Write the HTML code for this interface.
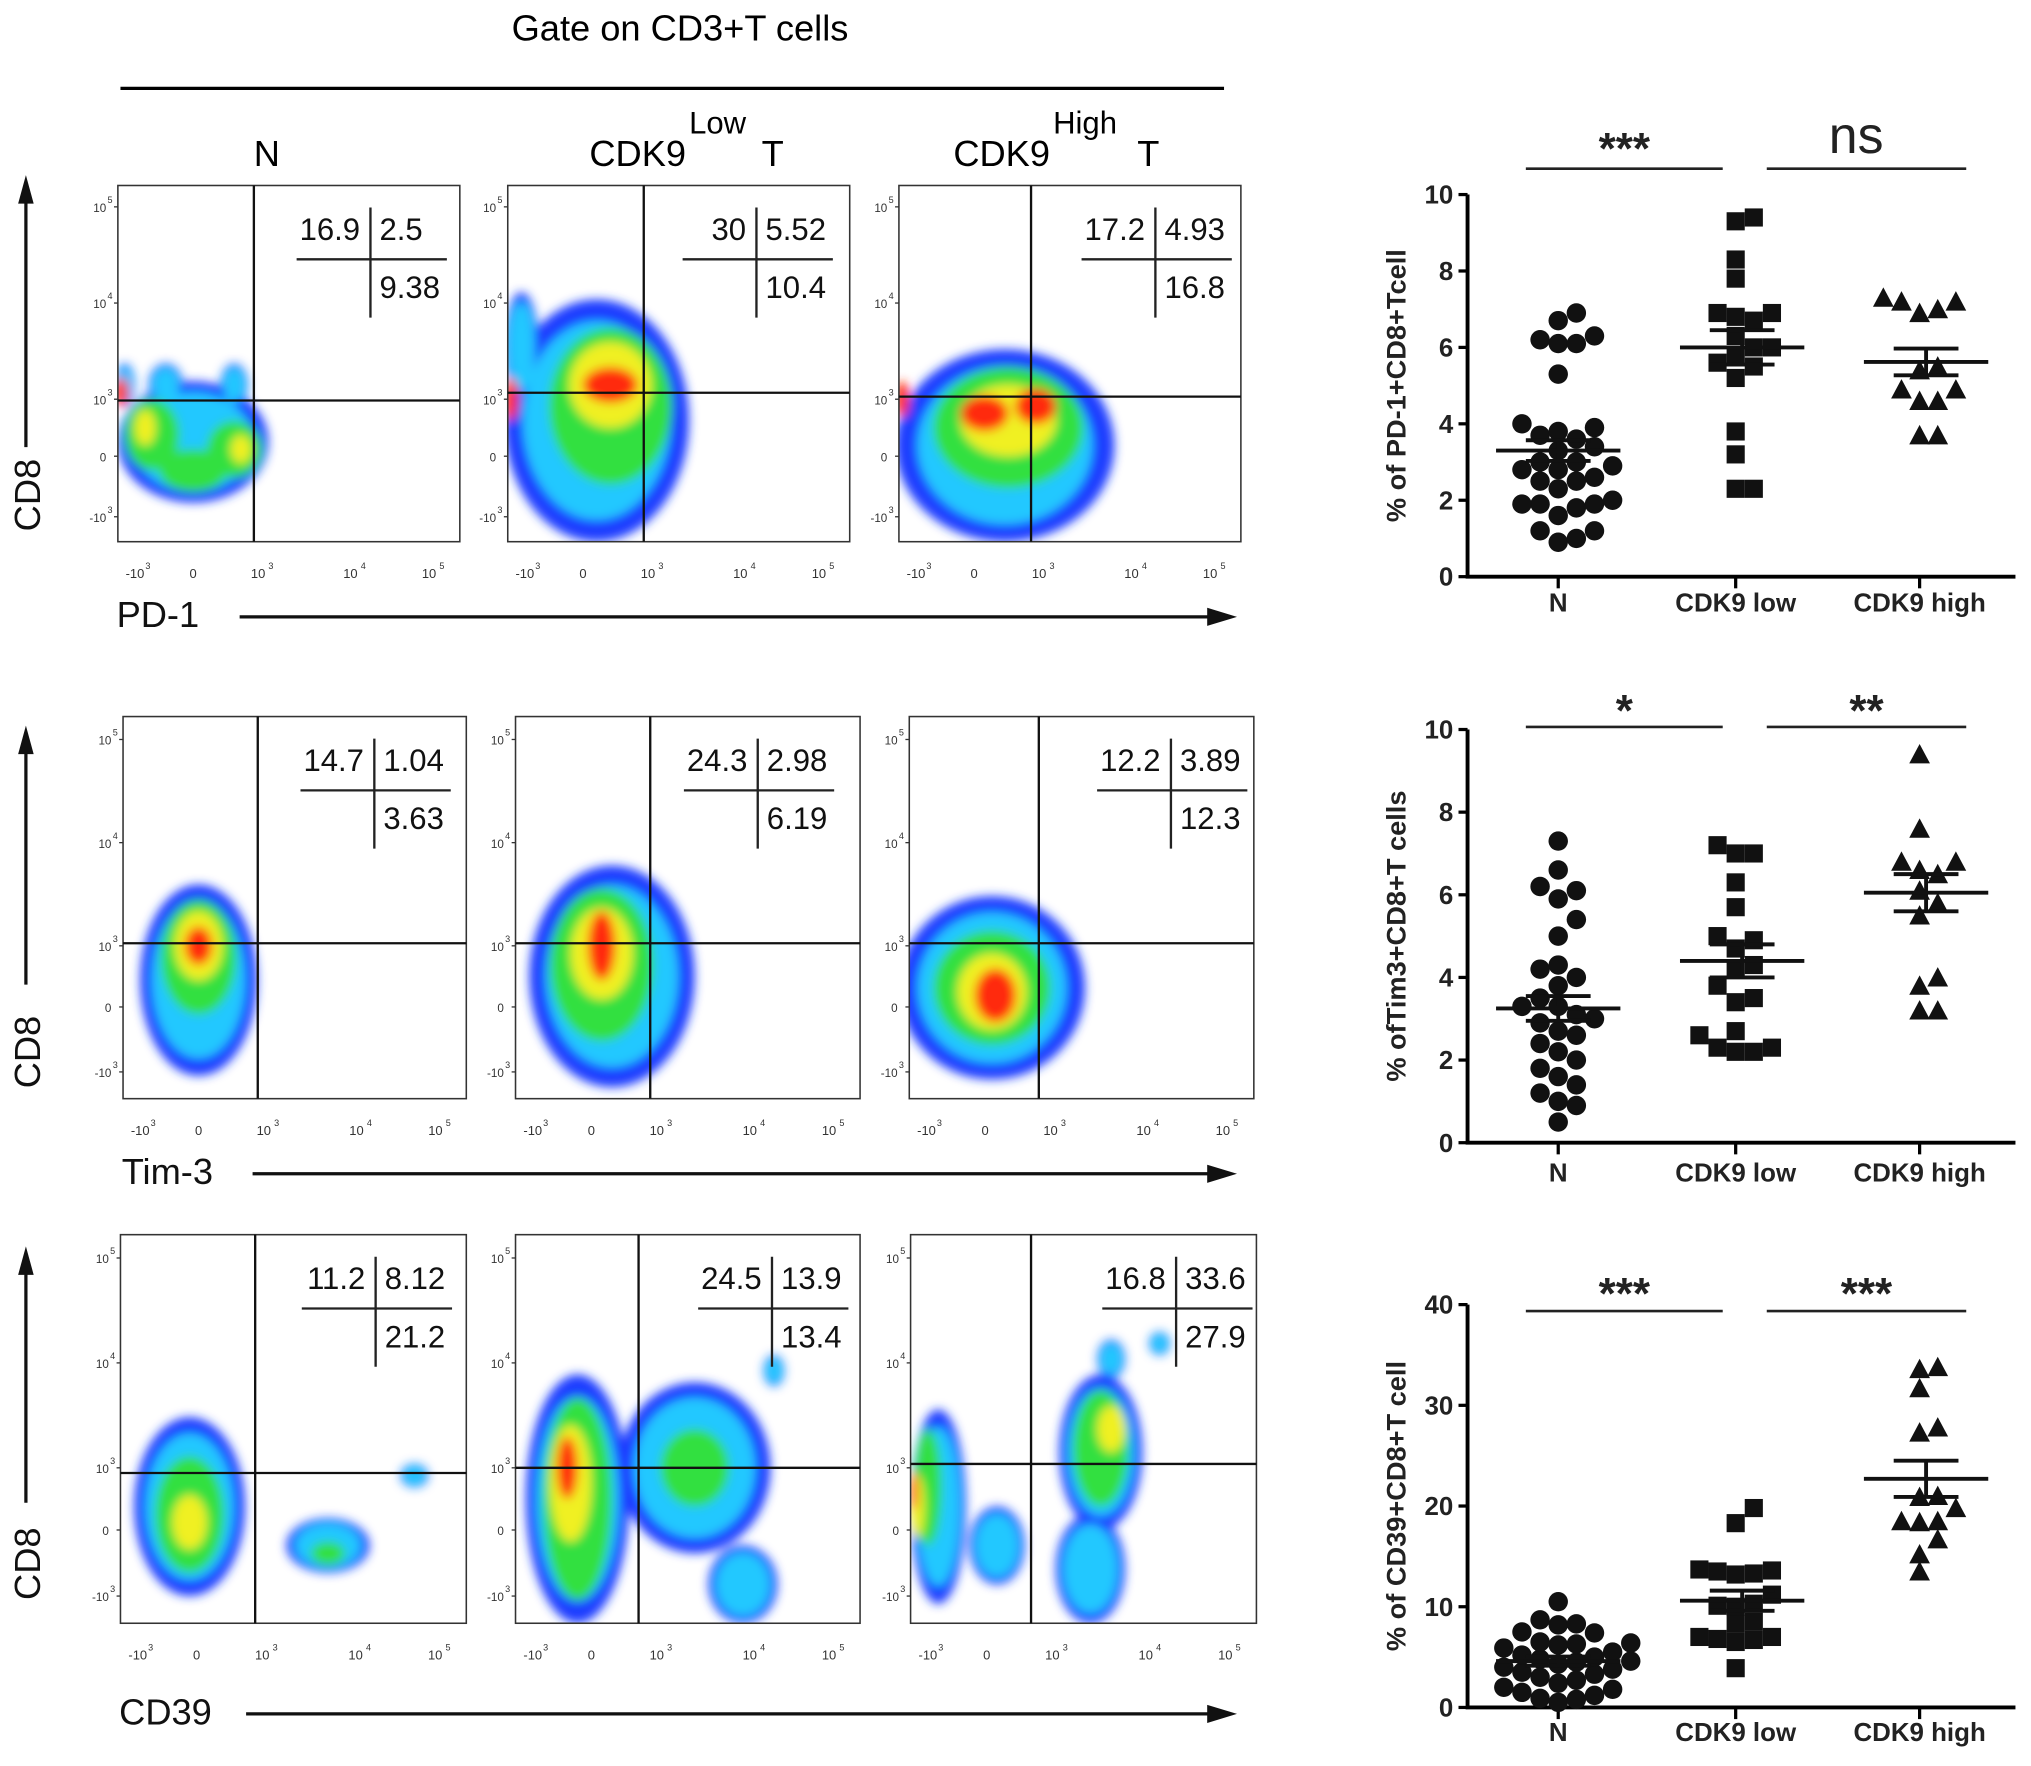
<!DOCTYPE html>
<html><head><meta charset="utf-8"><style>
html,body{margin:0;padding:0;background:#fff;}
svg{display:block;font-family:"Liberation Sans",Arial,sans-serif;}
</style></head><body>
<svg id="fig" width="2031" height="1766" viewBox="0 0 1568 1363" xmlns="http://www.w3.org/2000/svg">
<defs><filter id="blur" x="-20%" y="-20%" width="140%" height="140%"><feGaussianBlur stdDeviation="4"/></filter></defs>
<text x="525" y="31" font-size="28" text-anchor="middle">Gate on CD3+T cells</text>
<line x1="93" y1="68" x2="945" y2="68" stroke="#000" stroke-width="2.5"/>
<g font-size="28">
<text x="206" y="128" text-anchor="middle">N</text>
<text x="455" y="128">CDK9</text><text x="532" y="103" font-size="24">Low</text><text x="588" y="128">T</text>
<text x="736" y="128">CDK9</text><text x="813" y="103" font-size="24">High</text><text x="878" y="128">T</text>
</g>
<g id="flow"></g>
<g id="charts"></g>
</svg>
<script>
// ---------- scatter chart data ----------
const categories = ["N","CDK9 low","CDK9 high"];
const pd1N = [6.7,6.9,6.2,6.1,6.1,6.3,5.3,4.0,3.8,3.6,3.7,3.9,3.4,3.3,3.0,2.9,2.8,3.0,2.8,2.5,2.3,2.5,2.6,1.9,1.8,2.0,1.9,1.9,1.6,1.2,1.0,1.2,0.9];
const pd1Low = [9.3,9.4,8.3,7.8,6.9,6.9,6.7,6.8,6.3,6.0,6.0,5.8,5.5,5.6,5.2,3.8,3.2,2.3,2.3];
const pd1High = [7.2,7.0,6.9,7.2,7.3,5.5,5.4,4.9,4.6,4.6,4.9,3.7,3.7];
const pd1Mean = [3.3,6.0,5.62];
const pd1Sem = [0.27,0.45,0.35];
const tim3N = [7.3,6.2,6.1,5.9,5.4,5.0,4.3,4.2,4.0,3.8,3.5,3.3,3.1,3.0,2.9,2.7,2.6,2.4,2.2,2.0,1.8,1.6,1.4,1.2,1.0,0.9,0.5,6.6,3.3];
const tim3Low = [7.2,7.0,7.0,6.3,5.7,5.0,4.9,4.3,4.2,3.8,3.5,3.4,2.7,2.6,2.3,2.2,2.2,2.3,4.7];
const tim3High = [9.4,7.6,6.8,6.6,6.8,6.5,6.1,5.8,5.5,4.0,3.8,3.2,3.2];
const tim3Mean = [3.25,4.4,6.05];
const tim3Sem = [0.3,0.4,0.45];
const cd39N = [10.5,8.2,8.7,8.3,7.5,7.4,6.3,6.4,6.2,6.5,5.9,5.5,5.2,5.0,4.8,4.6,4.5,4.3,4.0,3.8,3.5,3.3,3.0,2.7,2.4,2.0,1.8,1.5,1.2,0.9,0.8,0.5];
const cd39Low = [19.8,18.3,13.6,13.3,13.2,13.5,13.7,11.2,10.3,10.0,10.1,8.5,8.3,7.0,6.8,6.7,7.0,6.5,3.9];
const cd39High = [33.8,33.6,31.7,27.8,27.3,21.0,20.9,19.8,18.5,18.5,18.4,16.7,15.2,13.5];
const cd39Mean = [4.6,10.6,22.7];
const cd39Sem = [0.45,1.0,1.8];
const yTicks10 = [0,2,4,6,8,10];
const yTicks40 = [0,10,20,30,40];
const SVGNS = "http://www.w3.org/2000/svg";
function mk(tag, attrs, parent){const e=document.createElementNS(SVGNS,tag);for(const k in attrs)e.setAttribute(k,attrs[k]);parent.appendChild(e);return e;}

const charts = [
 {top:150,bot:445,max:10,ticks:yTicks10,groups:[pd1N,pd1Low,pd1High],mean:pd1Mean,sem:pd1Sem,title:"% of PD-1+CD8+Tcell",sig:["***","ns"],sigY:130,sigTextY:118,labY:475},
 {top:563,bot:882,max:10,ticks:yTicks10,groups:[tim3N,tim3Low,tim3High],mean:tim3Mean,sem:tim3Sem,title:"% ofTim3+CD8+T cells",sig:["*","**"],sigY:561,sigTextY:552,labY:915},
 {top:1007,bot:1318,max:40,ticks:yTicks40,groups:[cd39N,cd39Low,cd39High],mean:cd39Mean,sem:cd39Sem,title:"% of CD39+CD8+T cell",sig:["***","***"],sigY:1012,sigTextY:1002,labY:1347}
];
const catX = [1203,1340,1482];
const chartsG = document.getElementById('charts');
charts.forEach((c,ci)=>{
  const g = mk('g',{},chartsG);
  
  
  const y = v => c.bot - (v/c.max)*(c.bot-c.top);
  const ax = mk('path',{d:`M1133 ${c.top} V${c.bot} H1556`,stroke:'#000','stroke-width':3,fill:'none'},g);
  
  
  c.ticks.forEach(t=>{
    mk('line',{x1:1126,x2:1133,y1:y(t),y2:y(t),stroke:'#000','stroke-width':2.5},g);
    const tl = mk('text',{x:1122,y:y(t)+7,'font-size':20,'font-weight':'bold','text-anchor':'end',fill:'#222'},g);
    tl.textContent = t;
    
    
  });
  categories.forEach((cat,i)=>{
    mk('line',{x1:catX[i],x2:catX[i],y1:c.bot,y2:c.bot+9,stroke:'#000','stroke-width':2.5},g);
    const cl = mk('text',{x:catX[i],y:c.labY-3,'font-size':20,'font-weight':'bold','text-anchor':'middle',fill:'#222'},g);
    cl.textContent = cat;
    
    
  });
  const tt = mk('text',{transform:`translate(1085 ${(c.top+c.bot)/2}) rotate(-90)`,'font-size':21,'font-weight':'bold','text-anchor':'middle',fill:'#222'},g);
  tt.textContent = c.title;
  
  
  // significance
  [[1178,1330],[1364,1518]].forEach((seg,si)=>{
    const sl = mk('line',{x1:seg[0],x2:seg[1],y1:c.sigY,y2:c.sigY,stroke:'#222','stroke-width':2},g);
    
    
    const ns = c.sig[si]==='ns';
    const st = mk('text',{x:(seg[0]+seg[1])/2+(ns?-8:0),y:ns?c.sigTextY:c.sigTextY+8,'font-size':ns?40:34,'font-weight':ns?'normal':'bold','text-anchor':'middle',fill:'#222'},g);
    st.textContent = c.sig[si];
    
    
  });
  c.groups.forEach((vals,gi)=>{
    const placed=[];
    const offs=[0,14,-14,28,-28,42,-42,56,-56,70,-70];
    [...vals].sort((a,b)=>a-b).forEach(v=>{
      const py=y(v);let px=catX[gi];
      for(const o of offs){const cx=catX[gi]+o;if(placed.every(p=>Math.hypot(p[0]-cx,p[1]-py)>=13)){px=cx;break;}}
      placed.push([px,py]);
      let m;
      if(gi===0) m=mk('circle',{cx:px,cy:py,r:7.5,fill:'#111'},g);
      else if(gi===1) m=mk('rect',{x:px-7,y:py-7,width:14,height:14,fill:'#111'},g);
      else m=mk('path',{d:`M${px} ${py-8} L${px+8} ${py+7} L${px-8} ${py+7}Z`,fill:'#111'},g);
      
      
    });
    const mx=catX[gi]+(gi===0?0:5), mv=c.mean[gi], se=c.sem[gi];
    const ml = mk('path',{d:`M${mx-48} ${y(mv)} H${mx+48} M${mx-25} ${y(mv+se)} H${mx+25} M${mx-25} ${y(mv-se)} H${mx+25} M${mx} ${y(mv+se)} V${y(mv-se)}`,stroke:'#111','stroke-width':3,fill:'none'},g);
    
    
  });
});

// ---------- flow cytometry panels ----------
const rows = [
 {y0:143,y1:418,xl:[91,392,694],xr:[355,656,958],vx:[196,497,796],hy:[309,303,306],statV:[286,584,892],stats:[["16.9","2.5","9.38"],["30","5.52","10.4"],["17.2","4.93","16.8"]],lab:"PD-1",labY:484,arrowStart:185,cd8Y:[135,345,410]},
 {y0:553,y1:848,xl:[95,398,702],xr:[360,664,968],vx:[199,502,802],hy:[728,728,728],statV:[289,585,904],stats:[["14.7","1.04","3.63"],["24.3","2.98","6.19"],["12.2","3.89","12.3"]],lab:"Tim-3",labY:914,arrowStart:195,cd8Y:[560,760,840]},
 {y0:953,y1:1253,xl:[93,398,703],xr:[360,664,970],vx:[197,493,796],hy:[1137,1133,1130],statV:[290,596,908],stats:[["11.2","8.12","21.2"],["24.5","13.9","13.4"],["16.8","33.6","27.9"]],lab:"CD39",labY:1331,arrowStart:190,cd8Y:[962,1160,1235]}
];
// density blobs: [cx,cy,rx,ry] fractions; layers blue, green, yellow, red
const blobs = [
 [
  {b:[[0.22,0.72,0.22,0.17],[0.14,0.56,0.05,0.06],[0.34,0.56,0.04,0.06],[0.02,0.56,0.03,0.06]],g:[[0.1,0.7,0.08,0.1],[0.34,0.74,0.08,0.08],[0.22,0.8,0.1,0.06]],yl:[[0.08,0.68,0.03,0.05],[0.36,0.74,0.03,0.04]],r:[[0.01,0.58,0.02,0.04]]},
  {b:[[0.26,0.66,0.27,0.34],[0.04,0.45,0.05,0.15]],g:[[0.3,0.62,0.18,0.22]],yl:[[0.3,0.56,0.12,0.12]],r:[[0.3,0.56,0.08,0.05],[0.01,0.6,0.02,0.06]]},
  {b:[[0.31,0.73,0.32,0.27]],g:[[0.32,0.68,0.22,0.17]],yl:[[0.32,0.66,0.14,0.1]],r:[[0.25,0.64,0.07,0.05],[0.4,0.62,0.06,0.05],[0.01,0.6,0.02,0.05]]}
 ],[
  {b:[[0.22,0.69,0.17,0.25]],g:[[0.22,0.63,0.11,0.15]],yl:[[0.22,0.6,0.07,0.09]],r:[[0.22,0.6,0.04,0.05]]},
  {b:[[0.28,0.68,0.24,0.29]],g:[[0.25,0.65,0.15,0.2]],yl:[[0.25,0.62,0.09,0.12]],r:[[0.25,0.6,0.04,0.09]]},
  {b:[[0.24,0.71,0.27,0.24]],g:[[0.24,0.71,0.17,0.15]],yl:[[0.24,0.72,0.1,0.1]],r:[[0.25,0.73,0.06,0.07]]}
 ],[
  {b:[[0.2,0.7,0.16,0.23],[0.6,0.8,0.12,0.07],[0.85,0.62,0.04,0.03]],g:[[0.2,0.72,0.1,0.15],[0.6,0.82,0.05,0.03]],yl:[[0.2,0.74,0.05,0.07]],r:[]},
  {b:[[0.18,0.68,0.15,0.32],[0.52,0.6,0.22,0.22],[0.66,0.9,0.1,0.1],[0.75,0.35,0.03,0.04]],g:[[0.18,0.68,0.1,0.26],[0.52,0.6,0.1,0.1]],yl:[[0.16,0.64,0.06,0.15]],r:[[0.15,0.6,0.03,0.08]]},
  {b:[[0.08,0.7,0.08,0.25],[0.55,0.56,0.12,0.2],[0.52,0.86,0.1,0.14],[0.25,0.8,0.08,0.1],[0.58,0.32,0.04,0.05],[0.72,0.28,0.03,0.03]],g:[[0.55,0.55,0.08,0.15],[0.05,0.65,0.04,0.15]],yl:[[0.58,0.5,0.04,0.06],[0.02,0.7,0.02,0.08]],r:[[0.01,0.66,0.01,0.05]]}
 ]
];
const tickX=[0.05,0.22,0.41,0.68,0.91], tickXL=["-10","0","10","10","10"], tickXS=["3","","3","4","5"];
const tickY=[0.06,0.33,0.6,0.76,0.93], tickYL=["10","10","10","0","-10"], tickYS=["5","4","3","","3"];
const flowG=document.getElementById('flow');
rows.forEach((r,ri)=>{
  for(let pi=0;pi<3;pi++){
    const x0=r.xl[pi],x1=r.xr[pi],w=x1-x0,h=r.y1-r.y0;
    const pg=mk('g',{},flowG);
    
    
    const cid='clip'+ri+pi;
    const cp=mk('clipPath',{id:cid},pg);mk('rect',{x:x0,y:r.y0,width:w,height:h},cp);
    const dg=mk('g',{'clip-path':`url(#${cid})`},pg);
    const inner=mk('g',{filter:'url(#blur)'},dg);
    const bl=blobs[ri][pi];
    [['b','#1a3cff'],['c','#20c8ff'],['g','#30e040'],['yl','#f0f020'],['r','#ff2a10']].forEach(([k,col])=>{
      let list=bl[k];
      if(k==='c') list=bl.b.map(e=>[e[0],e[1],e[2]*0.8,e[3]*0.82]);
      if(!list)return;
      list.forEach(e=>mk('ellipse',{cx:x0+e[0]*w,cy:r.y0+e[1]*h,rx:e[2]*w,ry:e[3]*h,fill:col},inner));
    });
    mk('rect',{x:x0,y:r.y0,width:w,height:h,fill:'none',stroke:'#333','stroke-width':1.2},pg);
    mk('line',{x1:r.vx[pi],x2:r.vx[pi],y1:r.y0,y2:r.y1,stroke:'#111','stroke-width':1.8},pg);
    mk('line',{x1:x0,x2:x1,y1:r.hy[pi],y2:r.hy[pi],stroke:'#111','stroke-width':1.8},pg);
    const sv=r.statV[pi], ty=r.y0;
    mk('path',{d:`M${sv} ${ty+17} V${ty+102} M${sv-57} ${ty+57} H${sv+59}`,stroke:'#222','stroke-width':1.8,fill:'none'},pg);
    const s=r.stats[pi];
    [[s[0],sv-8,ty+42,'end'],[s[1],sv+7,ty+42,'start'],[s[2],sv+7,ty+87,'start']].forEach(a=>{
      const t=mk('text',{x:a[1],y:a[2],'font-size':24,'text-anchor':a[3],fill:'#111'},pg);
      t.textContent=a[0];
      
      
    });
    tickX.forEach((f,i)=>{
      const t=mk('text',{x:x0+f*w,y:r.y1+28,'font-size':10,'text-anchor':'middle',fill:'#333'},pg);
      t.textContent=tickXL[i];
      mk('text',{x:x0+f*w+8,y:r.y1+21,'font-size':7,fill:'#333'},pg).textContent=tickXS[i];
    });
    tickY.forEach((f,i)=>{
      const t=mk('text',{x:x0-9,y:r.y0+f*h+4,'font-size':9,'text-anchor':'end',fill:'#333'},pg);
      t.textContent=tickYL[i];
      mk('text',{x:x0-8,y:r.y0+f*h-3,'font-size':7,fill:'#333'},pg).textContent=tickYS[i];
      mk('line',{x1:x0-3,x2:x0,y1:r.y0+f*h,y2:r.y0+f*h,stroke:'#333'},pg);
    });
  }
  const lab=mk('text',{x:r.xl[0]-1,y:r.labY,'font-size':28,fill:'#111'},flowG);
  lab.textContent=r.lab;
  
  
  const ar=mk('g',{},flowG);
  
  
  mk('line',{x1:r.arrowStart,x2:935,y1:r.labY-8,y2:r.labY-8,stroke:'#111','stroke-width':2.5},ar);
  mk('path',{d:`M955 ${r.labY-8} L932 ${r.labY-15} L932 ${r.labY-1}Z`,fill:'#111'},ar);
  const cd=mk('text',{transform:`translate(31 ${r.cd8Y[2]}) rotate(-90)`,'font-size':28,fill:'#111'},flowG);
  cd.textContent='CD8';
  
  
  const ya=mk('g',{},flowG);
  
  
  mk('line',{x1:20,x2:20,y1:r.cd8Y[0]+18,y2:r.cd8Y[1],stroke:'#111','stroke-width':2.5},ya);
  mk('path',{d:`M20 ${r.cd8Y[0]} L14 ${r.cd8Y[0]+22} L26 ${r.cd8Y[0]+22}Z`,fill:'#111'},ya);
});
</script>
</body></html>
